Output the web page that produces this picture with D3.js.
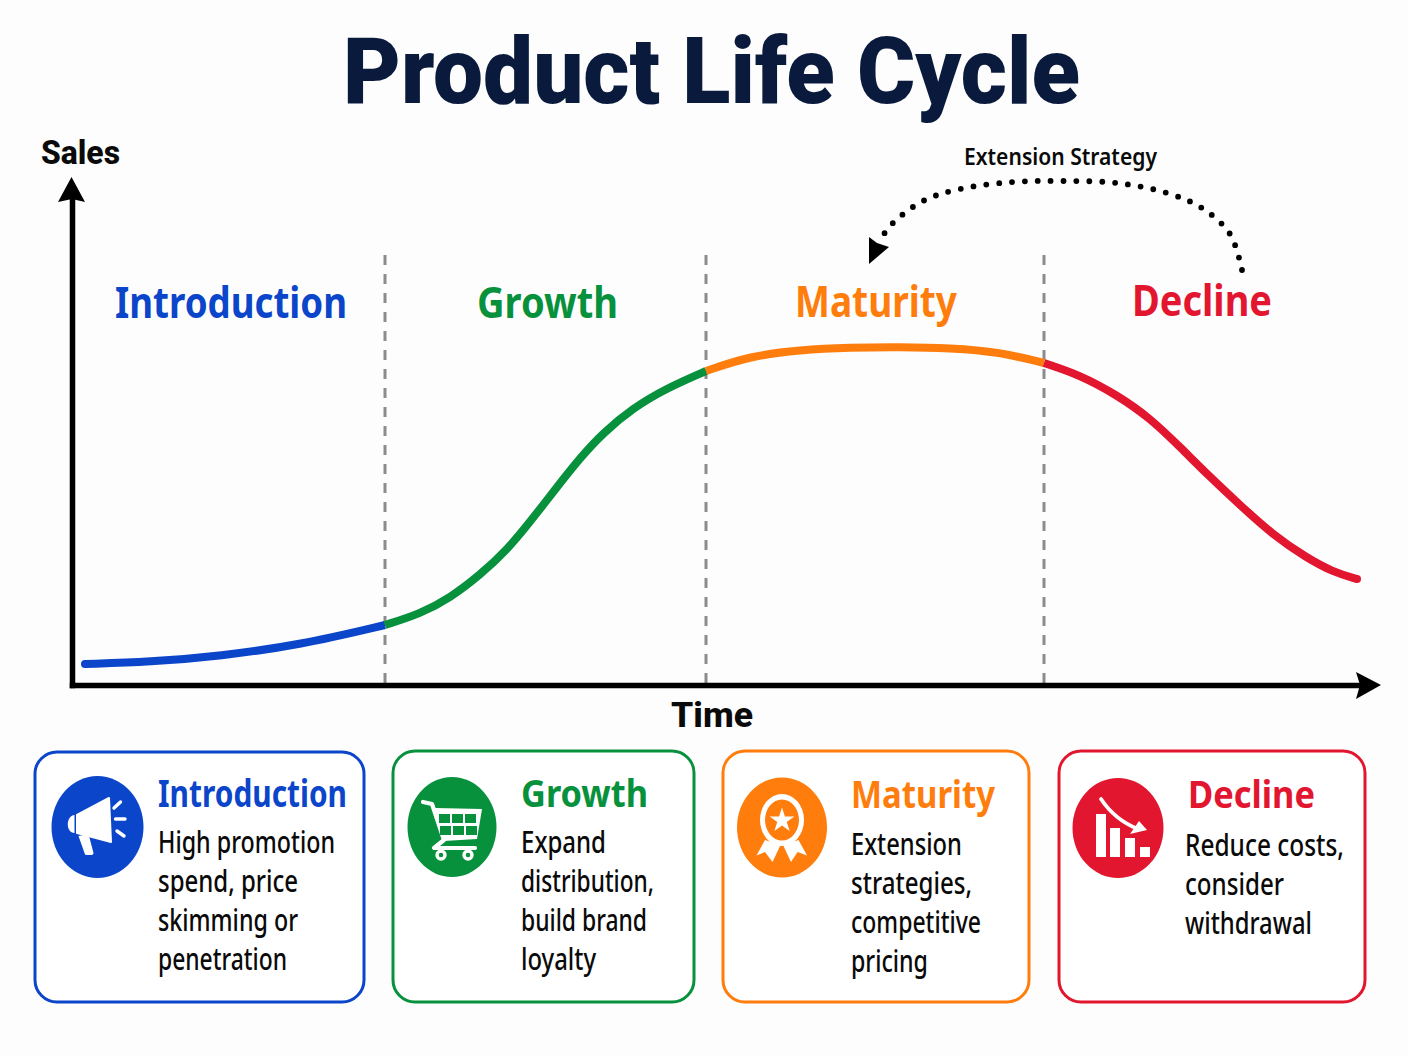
<!DOCTYPE html>
<html>
<head>
  <title>Product Life Cycle</title>
  <script src="https://d3js.org/d3.v7.min.js"></script>
  <style>
    html, body { margin: 0; padding: 0; background: #fdfdfd; }
    svg { display: block; }
    text { font-family: "Noto Sans", sans-serif; }
  </style>
</head>
<body>

<script>
const stages = ['Introduction', 'Growth', 'Maturity', 'Decline'];
const stageColors = ['#0b45c9', '#07913c', '#ff7d0c', '#e2162f'];

// curve, one list pair per stage
const introTime = [13, 78, 148, 228, 313];
const introSales = [21, 23, 29, 40, 60];
const growthTime = [313, 348, 378, 408, 435, 458, 485, 508, 531, 561, 595, 634];
const growthSales = [60, 71, 87, 110, 135, 163, 198, 227, 252, 277, 297, 314];
const maturityTime = [634, 678, 728, 778, 828, 878, 928, 972];
const maturitySales = [314, 329, 335, 337.5, 338, 337, 333, 322];
const declineTime = [972, 1008, 1045, 1078, 1108, 1138, 1168, 1201, 1235, 1261, 1285];
const declineSales = [322, 310, 290, 267, 238, 208, 180, 150, 127, 113, 106];

const stageBoundaries = [313, 634, 972];

// dotted extension arrow
const arcTime = [1170, 1158, 1130, 1095, 1045, 991, 941, 888, 851, 820, 806];
const arcSales = [415, 451, 477, 492, 502, 504, 503, 496, 484, 461, 442];

const cardText = [
  ['High promotion', 'spend, price', 'skimming or', 'penetration'],
  ['Expand', 'distribution,', 'build brand', 'loyalty'],
  ['Extension', 'strategies,', 'competitive', 'pricing'],
  ['Reduce costs,', 'consider', 'withdrawal']
];

const width = 1408;
const height = 1056;

// axis lines stop short of the arrow tips
const x = d3.scaleLinear().domain([0, 1293]).range([72, 1365]);
const y = d3.scaleLinear().domain([0, 485]).range([685, 200]);

const svg = d3.select('body').append('svg')
  .attr('width', width)
  .attr('height', height);

svg.append('rect').attr('width', width).attr('height', height).attr('fill', '#fdfdfd');

// squeeze text to the width it has in the picture
function label(parent, str, px, py, size, w, color, weight) {
  return parent.append('text')
    .attr('x', px).attr('y', py)
    .attr('font-size', size)
    .attr('font-weight', weight || 700)
    .attr('fill', color)
    .attr('textLength', w)
    .attr('lengthAdjust', 'spacingAndGlyphs')
    .text(str);
}

label(svg, 'Product Life Cycle', 343, 103, 92, 737, '#0a1a3c', 900).style('font-family', 'Roboto');
label(svg, 'Sales', 41, 164, 33, 79, '#0a0a0a', 800).style('font-family', 'Roboto');
label(svg, 'Time', 671, 727, 35, 82, '#0a0a0a', 800).style('font-family', 'Roboto');
label(svg, 'Extension Strategy', 964, 165, 23, 193, '#0a0a0a', 600);

// stage boundaries
svg.selectAll('.boundary')
  .data(stageBoundaries)
  .enter().append('line')
    .attr('class', 'boundary')
    .attr('x1', d => x(d)).attr('x2', d => x(d))
    .attr('y1', 255).attr('y2', 683)
    .attr('stroke', '#8c8c8c')
    .attr('stroke-width', 3)
    .attr('stroke-dasharray', '10 9');

// axes, no ticks on this one
svg.append('g')
  .attr('transform', `translate(0,${y(0)})`)
  .call(d3.axisBottom(x).tickValues([]).tickSizeOuter(0))
  .select('.domain').attr('stroke', '#000').attr('stroke-width', 5.5).attr('stroke-linecap', 'square');
svg.append('g')
  .attr('transform', `translate(${x(0)},0)`)
  .call(d3.axisLeft(y).tickValues([]).tickSizeOuter(0))
  .select('.domain').attr('stroke', '#000').attr('stroke-width', 5.5).attr('stroke-linecap', 'square');

svg.append('path').attr('d', 'M1381,685 L1356,672 L1360,685 L1356,699 Z').attr('fill', '#000');
svg.append('path').attr('d', 'M71.5,177 L58,202 L72,199 L85,202 Z').attr('fill', '#000');

// curve, basis smooths out the wobble of the hand read points
const line = d3.line().x(d => x(d[0])).y(d => y(d[1])).curve(d3.curveBasis);
const series = [
  d3.zip(introTime, introSales),
  d3.zip(growthTime, growthSales),
  d3.zip(maturityTime, maturitySales),
  d3.zip(declineTime, declineSales)
];
svg.selectAll('.stage-line')
  .data(series)
  .enter().append('path')
    .attr('class', 'stage-line')
    .attr('d', line)
    .attr('fill', 'none')
    .attr('stroke', (d, i) => stageColors[i])
    .attr('stroke-width', 8);
// round the two free ends
[[series[0][0], 0], [series[3][series[3].length - 1], 3]].forEach(([p, i]) => {
  svg.append('circle').attr('cx', x(p[0])).attr('cy', y(p[1])).attr('r', 4).attr('fill', stageColors[i]);
});

const stageLabelLayout = [[115, 318, 232], [477, 318, 141], [795, 317, 162], [1132, 316, 140]];
stages.forEach((s, i) => {
  const [px, py, w] = stageLabelLayout[i];
  label(svg, s, px, py, 43, w, stageColors[i]);
});

// extension arrow
const arcLine = d3.line().x(d => x(d[0])).y(d => y(d[1])).curve(d3.curveCatmullRom);
svg.append('path')
  .attr('d', arcLine(d3.zip(arcTime, arcSales)))
  .attr('fill', 'none')
  .attr('stroke', '#000')
  .attr('stroke-width', 5.8)
  .attr('stroke-linecap', 'round')
  .attr('stroke-dasharray', '0 12.9');
svg.append('path').attr('d', 'M869,264 L869,237 L877,243 L889,247 Z').attr('fill', '#000');

// cards
const cardBoxes = [
  { x: 35, y: 752, w: 329, h: 250 },
  { x: 393, y: 751, w: 301, h: 251 },
  { x: 723, y: 751, w: 306, h: 251 },
  { x: 1059, y: 751, w: 306, h: 251 }
];
const iconLayout = [
  { cx: 97.5, cy: 827, rx: 46, ry: 51 },
  { cx: 452, cy: 827, rx: 44.5, ry: 50 },
  { cx: 782, cy: 827.5, rx: 45, ry: 50 },
  { cx: 1118, cy: 828, rx: 45.5, ry: 50 }
];
const titleLayout = [[158, 807, 189], [521, 807, 127], [851, 808, 144], [1188, 808, 127]];
const bodyLayout = [[158, 853], [521, 853], [851, 855], [1185, 856]];
const bodyWidths = [
  [177, 140, 140, 129],
  [85, 133, 126, 75],
  [111, 121, 130, 77],
  [159, 99, 127]
];
const lineGap = 39;

stages.forEach((s, i) => {
  const b = cardBoxes[i];
  svg.append('rect')
    .attr('x', b.x).attr('y', b.y).attr('width', b.w).attr('height', b.h)
    .attr('rx', 22)
    .attr('fill', '#fff')
    .attr('stroke', stageColors[i])
    .attr('stroke-width', 3);

  const ic = iconLayout[i];
  svg.append('ellipse')
    .attr('cx', ic.cx).attr('cy', ic.cy).attr('rx', ic.rx).attr('ry', ic.ry)
    .attr('fill', stageColors[i]);

  const [tx, ty, tw] = titleLayout[i];
  label(svg, s, tx, ty, 37, tw, stageColors[i]);

  const [bx, by] = bodyLayout[i];
  cardText[i].forEach((t, j) => {
    label(svg, t, bx, by + j * lineGap, 30, bodyWidths[i][j], '#0a0a0a', 500);
  });
});

// icons
const icons = iconLayout.map(ic => svg.append('g').attr('transform', `translate(${ic.cx},${ic.cy})`));

// megaphone
icons[0].append('path').attr('d', 'M11.5,-29 L13.5,15 L-20.5,6 L-20.5,-12 Z').attr('fill', '#fff').attr('stroke', '#fff').attr('stroke-width', 2).attr('stroke-linejoin', 'round');
icons[0].append('path').attr('d', 'M-23,-12 C-32,-11 -32,6 -23,6 Z').attr('fill', '#fff');
icons[0].append('path').attr('d', 'M-19,9 L-9,7 L-4,26 Q-4,28 -7,28 L-11,28 Q-13,28 -13,26 Z').attr('fill', '#fff');
[[16.5, -19, 23, -25], [18, -8, 27.5, -8], [19.5, 4, 26.5, 9]].forEach(r => {
  icons[0].append('line').attr('x1', r[0]).attr('y1', r[1]).attr('x2', r[2]).attr('y2', r[3])
    .attr('stroke', '#fff').attr('stroke-width', 3.4).attr('stroke-linecap', 'round');
});

// cart
icons[1].append('path').attr('d', 'M-29,-25 L-20,-23 L-8,13 L-18,21 L23,21').attr('fill', 'none')
  .attr('stroke', '#fff').attr('stroke-width', 4.2).attr('stroke-linejoin', 'round').attr('stroke-linecap', 'round');
icons[1].append('path').attr('d', 'M-17,-19 L30,-18 L25,12 L-8,14 Z').attr('fill', '#fff');
d3.cross(d3.range(3), d3.range(2)).forEach(([c, r]) => {
  icons[1].append('rect')
    .attr('x', -13 + c * 13 + r).attr('y', -13 + r * 12)
    .attr('width', 11).attr('height', 9)
    .attr('fill', stageColors[1]);
});
[-11, 16].forEach(cx => {
  icons[1].append('circle').attr('cx', cx).attr('cy', 28).attr('r', 4).attr('fill', stageColors[1])
    .attr('stroke', '#fff').attr('stroke-width', 3.4);
});

// ribbon badge
icons[2].append('ellipse').attr('cy', -7.5).attr('rx', 22).attr('ry', 26).attr('fill', '#fff');
icons[2].append('ellipse').attr('cy', -7.5).attr('rx', 17).attr('ry', 20.5).attr('fill', stageColors[2]);
icons[2].append('path').attr('d', d3.symbol(d3.symbolStar, 190)()).attr('transform', 'translate(0,-7)').attr('fill', '#fff');
icons[2].append('path').attr('d', 'M-17,12.5 L-25.5,28 L-17,24.5 L-9.5,34.5 L-1.5,17.5 Z').attr('fill', '#fff');
icons[2].append('path').attr('d', 'M1,17.5 L9,34.5 L15.6,24.5 L25,28 L16.5,12.5 Z').attr('fill', '#fff');

// falling bars
[[-22, -14], [-8, 0], [7, 10], [22, 19]].forEach(b => {
  icons[3].append('rect').attr('x', b[0]).attr('y', b[1]).attr('width', 10).attr('height', 29 - b[1]).attr('fill', '#fff');
});
icons[3].append('path').attr('d', 'M-17,-29 Q-3,-8 20,1').attr('fill', 'none').attr('stroke', '#fff').attr('stroke-width', 3.8).attr('stroke-linecap', 'round');
icons[3].append('path').attr('d', 'M29,2 L12,6 L21,-7 Z').attr('fill', '#fff');
</script>

</body>
</html>
